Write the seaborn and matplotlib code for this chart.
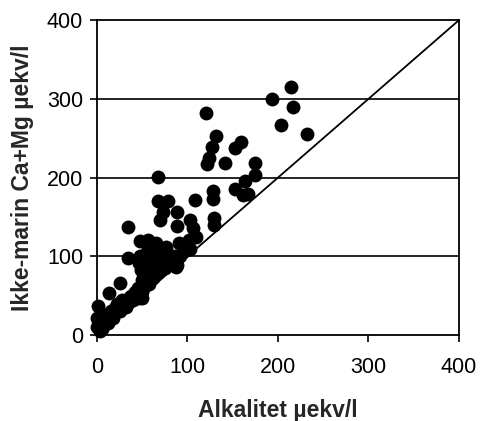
import numpy as np
import pandas as pd
import matplotlib
matplotlib.use("Agg")
import matplotlib.pyplot as plt
import seaborn as sns

# DATA
alkalitet = [
    214, 194, 217, 203, 232, 121, 132, 127, 159, 153, 124, 122, 141, 175, 175,
    164, 153, 161, 167, 128, 128, 129, 129, 108, 68, 67, 79, 88, 73, 70,
    88, 103, 106, 34, 34, 48, 56, 65, 76, 91, 102, 103, 88, 46, 49,
    65, 78, 25, 13, 46, 1, 0, 0, 87, 50,
    3, 5, 8, 10, 12, 15, 18, 20, 22, 25, 28, 30, 35, 38, 40,
    42, 45, 50, 50, 52, 55, 58, 60, 62, 55, 60, 48, 52, 65, 70,
    72, 75, 80, 85, 95, 100, 110, 6, 9, 14, 17, 24, 27, 32, 37,
    44, 58, 62, 68, 82, 92, 98, 57, 53,
]
ca_mg = [
    315, 300, 290, 267, 255, 282, 253, 239, 245, 238, 225, 217, 219, 219, 204,
    196, 185, 178, 179, 183, 173, 149, 140, 171, 201, 170, 170, 156, 157, 146,
    138, 146, 136, 137, 98, 119, 121, 117, 112, 117, 121, 110, 89, 91, 83,
    95, 98, 66, 53, 47, 37, 22, 10, 87, 47,
    5, 12, 18, 25, 15, 30, 22, 35, 40, 30, 45, 38, 42, 50, 45,
    55, 60, 55, 70, 80, 75, 90, 85, 100, 105, 110, 100, 95, 105, 100,
    90, 85, 95, 100, 105, 115, 125, 8, 14, 20, 28, 33, 40, 36, 48,
    52, 65, 72, 80, 92, 100, 108, 112, 62,
]

df = pd.DataFrame({"alk": alkalitet, "camg": ca_mg})

sns.set_style("white")
plt.rcParams["font.family"] = ["Liberation Sans", "DejaVu Sans"]

fig = plt.figure(figsize=(4.8, 4.21), dpi=100)
ax = fig.add_axes([0.202, 0.204, 0.754, 0.748])

# grid lines
for yv in [100, 200, 300]:
    ax.axhline(yv, color="black", linewidth=1.2, zorder=1)

# 1:1 line
ax.plot([0, 400], [0, 400], color="black", linewidth=1.3, zorder=2)

sns.scatterplot(
    data=df,
    x="alk",
    y="camg",
    color="black",
    s=100,
    edgecolor="black",
    linewidth=0,
    ax=ax,
    zorder=3,
    clip_on=False,
)

ax.set_xlim(0, 400)
ax.set_ylim(0, 400)
ax.set_xticks([0, 100, 200, 300, 400])
ax.set_yticks([0, 100, 200, 300, 400])

for sp in ax.spines.values():
    sp.set_color("black")
    sp.set_linewidth(1.3)

ax.tick_params(axis="both", direction="out", length=5, width=1.2,
               colors="black", labelsize=15.5, bottom=True, left=True)
ax.tick_params(axis="x", pad=11)
ax.tick_params(axis="y", pad=5)

ax.set_xlabel("Alkalitet µekv/l", fontsize=16.5, fontweight="bold", labelpad=15)
ax.set_ylabel("Ikke-marin Ca+Mg µekv/l", fontsize=16.5, fontweight="bold", labelpad=9)

fig.savefig("out.png", dpi=100)
